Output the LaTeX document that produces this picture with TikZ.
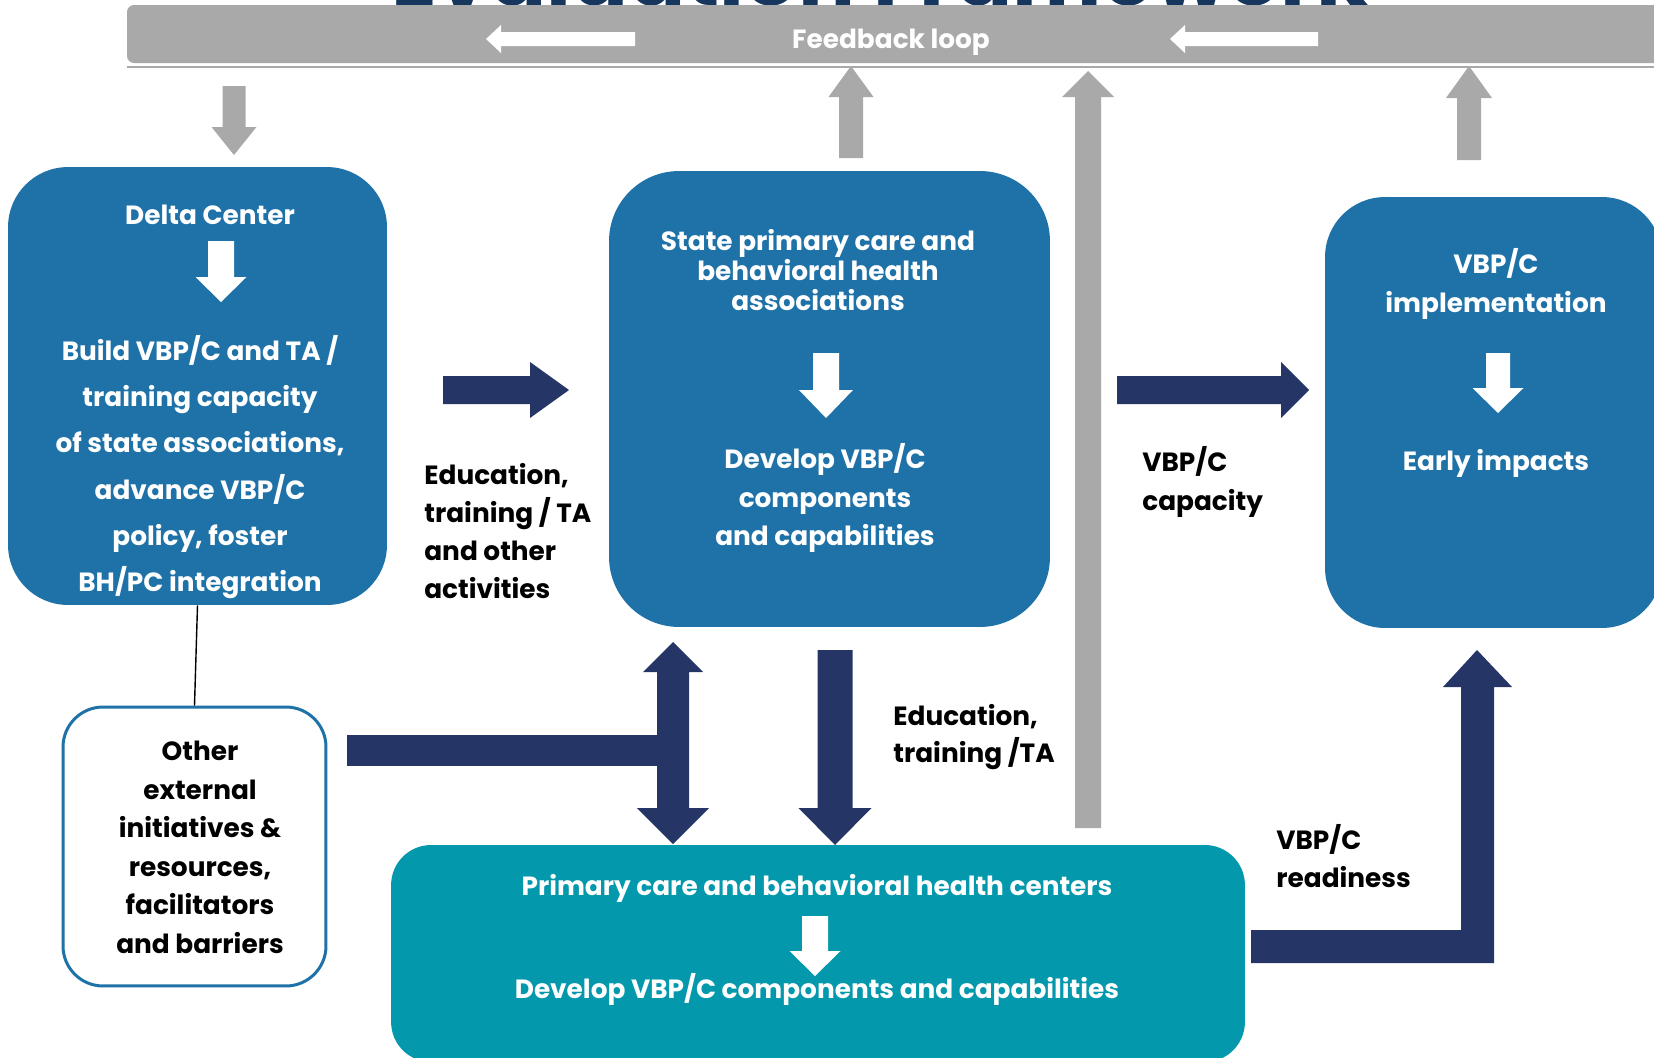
\documentclass[tikz,border=0pt]{standalone}
\usepackage{fontspec}
\setmainfont{Poppins}
\usetikzlibrary{calc}
\definecolor{boxblue}{RGB}{30,114,167}
\definecolor{tealbox}{RGB}{3,152,172}
\definecolor{navyarr}{RGB}{37,53,101}
\definecolor{loopgray}{RGB}{169,169,169}
\definecolor{titlenavy}{RGB}{23,54,93}

% block arrows: colour, centre, start, head base, tip, half shaft, half head
\newcommand{\vblock}[7]{\fill[#1] ({#2-#6},#3) -- ({#2+#6},#3) -- ({#2+#6},#4) -- ({#2+#7},#4) -- (#2,#5) -- ({#2-#7},#4) -- ({#2-#6},#4) -- cycle;}
\newcommand{\hblock}[7]{\fill[#1] (#3,{#2-#6}) -- (#3,{#2+#6}) -- (#4,{#2+#6}) -- (#4,{#2+#7}) -- (#5,#2) -- (#4,{#2-#7}) -- (#4,{#2-#6}) -- cycle;}

\begin{document}
\begin{tikzpicture}[x=0.02cm,y=-0.02cm,
  bluebox/.style={fill=boxblue, rounded corners=1.2cm},
  wtxt/.style={text=white, align=center, font=\bfseries\fontsize{15}{#1}\selectfont},
  wtxt/.default=18,
  ktxt/.style={text=black, align=left, anchor=west, inner xsep=0pt, font=\bfseries\fontsize{15}{#1}\selectfont},
  ktxt/.default=22,
  ctxt/.style={text=black, align=center, font=\bfseries\fontsize{15}{#1}\selectfont}]
\useasboundingbox (0,0) rectangle (1654,1058);
% title, mostly hidden behind the loop bar
\node[anchor=base, text=titlenavy, font=\bfseries\fontsize{48}{48}\selectfont] (title) at (880,6) {Evaluation Framework};
% feedback loop bar
\fill[loopgray, rounded corners=4pt] (127,5) rectangle (1690,63);
\draw[loopgray, line width=1.2pt] (127,67) -- (1654,67);
\node[wtxt] (loop) at (891,42) {Feedback loop};
\hblock{white}{39}{635}{501}{486}{7}{14}
\hblock{white}{39}{1318}{1185}{1170}{7}{14}
% gray arrows to and from the loop
\vblock{loopgray}{234}{86}{127}{155}{11.5}{22.5}
\vblock{loopgray}{851}{158}{97}{66}{12}{22.5}
\vblock{loopgray}{1088}{828}{97}{71}{13}{26}
\vblock{loopgray}{1469}{160}{98}{66}{12}{23}

% boxes
\node[bluebox, minimum width=7.58cm, minimum height=8.76cm] (delta) at (197.5,386) {};
\node[bluebox, rounded corners=1.4cm, minimum width=8.82cm, minimum height=9.12cm] (state) at (829.5,399) {};
\node[bluebox, minimum width=6.74cm, minimum height=8.62cm] (impl) at (1493.5,412.5) {};
\node[fill=tealbox, rounded corners=0.8cm, minimum width=17.08cm, minimum height=4.34cm] (centers) at (818,953.5) {};
\node[draw=boxblue, line width=1.7pt, fill=white, rounded corners=0.8cm, minimum width=5.26cm, minimum height=5.58cm] (other) at (194.5,846.5) {};
\draw[line width=0.8pt] (delta.south) -- (other.north);

% box texts
\node[wtxt] (deltatop) at (210,215) {Delta Center};
\vblock{white}{221}{241}{277}{302}{13}{25.5}
\node[wtxt=26.3pt] (deltabody) at (200,467) {Build VBP/C and TA /\\training capacity\\of state associations,\\advance VBP/C\\policy, foster\\BH/PC integration};
\node[wtxt=17.3pt] (statetop) at (818,270) {State primary care and\\behavioral health\\associations};
\vblock{white}{826}{353}{390}{418}{13}{27}
\node[wtxt=21.8pt] (statebody) at (825,498) {Develop VBP/C\\components\\and capabilities};
\node[wtxt=22.7pt] (impltop) at (1496,284) {VBP/C\\implementation};
\vblock{white}{1498}{353}{388}{413}{12}{25.5}
\node[wtxt] (impllow) at (1496,463) {Early impacts};
\node[wtxt] (centerstop) at (817,888) {Primary care and behavioral health centers};
\vblock{white}{815}{916}{951}{976}{13}{25.5}
\node[wtxt] (centerslow) at (817,989) {Develop VBP/C components and capabilities};
\node[ctxt=21.9pt] (othertxt) at (200,847.5) {Other\\external\\initiatives \&\\resources,\\facilitators\\and barriers};

% navy arrows
\hblock{navyarr}{390}{443}{530}{569}{14}{28}
\hblock{navyarr}{390}{1117}{1281}{1309}{14}{28}
\vblock{navyarr}{835}{650}{808}{845}{17.5}{36.5}
\fill[navyarr] (347,735) rectangle (673,766);
\vblock{navyarr}{673}{740}{672}{642}{16}{30}
\vblock{navyarr}{673}{740}{808}{844}{16}{36}
\fill[navyarr] (1251,930) -- (1461,930) -- (1461,687) -- (1443,687) -- (1477,650) -- (1512,687) -- (1494,687) -- (1494,963) -- (1251,963) -- cycle;

% arrow labels
\node[ktxt=21.7pt] (lbledu) at (424,531) {Education,\\training / TA\\and other\\activities};
\node[ktxt=21.5pt] (lbltrain) at (893,737) {Education,\\training /TA};
\node[ktxt] (lblcap) at (1142,482) {VBP/C\\capacity};
\node[ktxt] (lblready) at (1276,856) {VBP/C\\readiness};
\end{tikzpicture}
\end{document}
